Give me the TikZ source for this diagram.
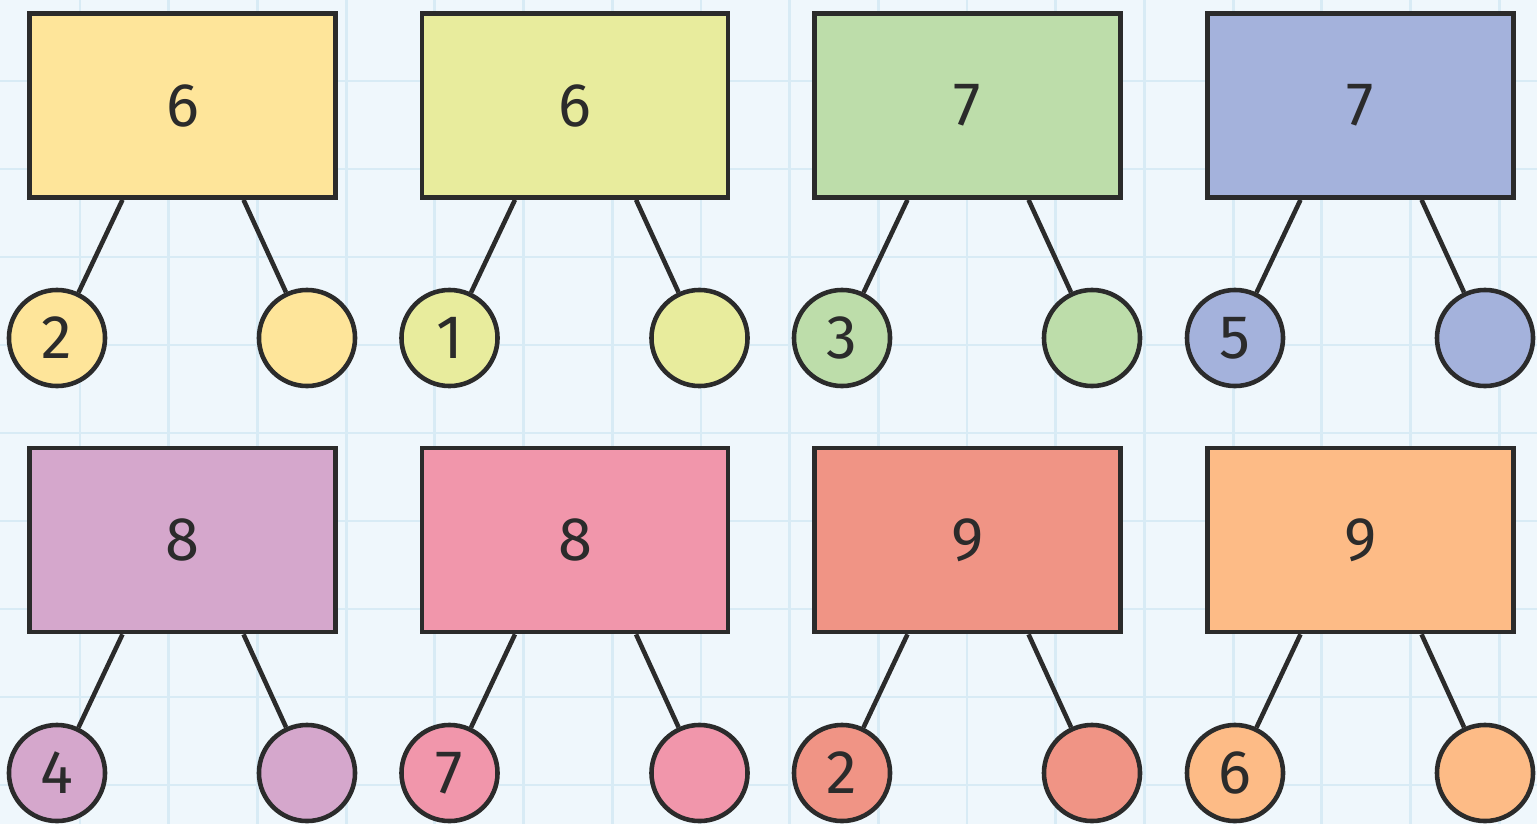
\documentclass[tikz,border=0pt]{standalone}
\usepackage{fontspec}
\setmainfont{Fira Sans}
\usepackage{tikz}
\usetikzlibrary{positioning,calc}
\definecolor{bgpaper}{HTML}{EFF7FC}
\definecolor{gridline}{HTML}{D8EBF5}
\definecolor{inkdark}{HTML}{2B2B2B}
\definecolor{bondyellow}{HTML}{FEE59A}
\definecolor{bondlime}{HTML}{E8EC9D}
\definecolor{bondgreen}{HTML}{BDDDAA}
\definecolor{bondblue}{HTML}{A4B2DC}
\definecolor{bondpurple}{HTML}{D5A7CC}
\definecolor{bondpink}{HTML}{F196AB}
\definecolor{bondsalmon}{HTML}{F09485}
\definecolor{bondorange}{HTML}{FDBB86}

\begin{document}
\begin{tikzpicture}[x=0.01cm, y=-0.01cm,
    wholebox/.style={draw=inkdark, line width=1.3pt, minimum width=3.06cm, minimum height=1.84cm, font=\fontsize{17.5}{20}\selectfont, text=inkdark},
    partball/.style={circle, draw=inkdark, line width=1.3pt, minimum size=0.96cm, inner sep=0pt, font=\fontsize{17.5}{20}\selectfont, text=inkdark},
    bondline/.style={draw=inkdark, line width=1.3pt}]
    % 背景与方格
    \useasboundingbox (0, 0) rectangle (1537, 824);
    \clip (0, 0) rectangle (1537, 824);
    \fill[bgpaper] (0, 0) rectangle (1537, 824);
    \foreach \gx in {80, 168.7, ..., 1530} {\draw[gridline, line width=0.8pt] (\gx, 0) -- (\gx, 824);}
    \foreach \gy in {-7, 81, ..., 830} {\draw[gridline, line width=0.8pt] (0, \gy) -- (1537, \gy);}

    % 第一行：整体方框
    \node[wholebox, fill=bondyellow] (w1) at (182.5, 105.5) {6}; \node[wholebox, fill=bondlime] (w2) at (575, 105.5) {6};
    \node[wholebox, fill=bondgreen] (w3) at (967.5, 105.5) {7}; \node[wholebox, fill=bondblue] (w4) at (1360.5, 105.5) {7};

    % 第一行：部分圆圈
    \node[partball, fill=bondyellow] (p1a) at (57, 338) {2}; \node[partball, fill=bondyellow] (p1b) at (307, 338) {};
    \node[partball, fill=bondlime] (p2a) at (449.5, 338) {1}; \node[partball, fill=bondlime] (p2b) at (699.5, 338) {};
    \node[partball, fill=bondgreen] (p3a) at (842, 338) {3}; \node[partball, fill=bondgreen] (p3b) at (1092, 338) {};
    \node[partball, fill=bondblue] (p4a) at (1235, 338) {5}; \node[partball, fill=bondblue] (p4b) at (1485, 338) {};

    % 第二行：整体方框
    \node[wholebox, fill=bondpurple] (w5) at (182.5, 540) {8}; \node[wholebox, fill=bondpink] (w6) at (575, 540) {8};
    \node[wholebox, fill=bondsalmon] (w7) at (967.5, 540) {9}; \node[wholebox, fill=bondorange] (w8) at (1360.5, 540) {9};

    % 第二行：部分圆圈
    \node[partball, fill=bondpurple] (p5a) at (57, 773) {4}; \node[partball, fill=bondpurple] (p5b) at (307, 773) {};
    \node[partball, fill=bondpink] (p6a) at (449.5, 773) {7}; \node[partball, fill=bondpink] (p6b) at (699.5, 773) {};
    \node[partball, fill=bondsalmon] (p7a) at (842, 773) {2}; \node[partball, fill=bondsalmon] (p7b) at (1092, 773) {};
    \node[partball, fill=bondorange] (p8a) at (1235, 773) {6}; \node[partball, fill=bondorange] (p8b) at (1485, 773) {};

    % 连线
    \draw[bondline] ([xshift=-0.6cm]w1.south) -- (p1a); \draw[bondline] ([xshift=0.61cm]w1.south) -- (p1b);
    \draw[bondline] ([xshift=-0.6cm]w2.south) -- (p2a); \draw[bondline] ([xshift=0.61cm]w2.south) -- (p2b);
    \draw[bondline] ([xshift=-0.6cm]w3.south) -- (p3a); \draw[bondline] ([xshift=0.61cm]w3.south) -- (p3b);
    \draw[bondline] ([xshift=-0.6cm]w4.south) -- (p4a); \draw[bondline] ([xshift=0.61cm]w4.south) -- (p4b);
    \draw[bondline] ([xshift=-0.6cm]w5.south) -- (p5a); \draw[bondline] ([xshift=0.61cm]w5.south) -- (p5b);
    \draw[bondline] ([xshift=-0.6cm]w6.south) -- (p6a); \draw[bondline] ([xshift=0.61cm]w6.south) -- (p6b);
    \draw[bondline] ([xshift=-0.6cm]w7.south) -- (p7a); \draw[bondline] ([xshift=0.61cm]w7.south) -- (p7b);
    \draw[bondline] ([xshift=-0.6cm]w8.south) -- (p8a); \draw[bondline] ([xshift=0.61cm]w8.south) -- (p8b);
\end{tikzpicture}
\end{document}
